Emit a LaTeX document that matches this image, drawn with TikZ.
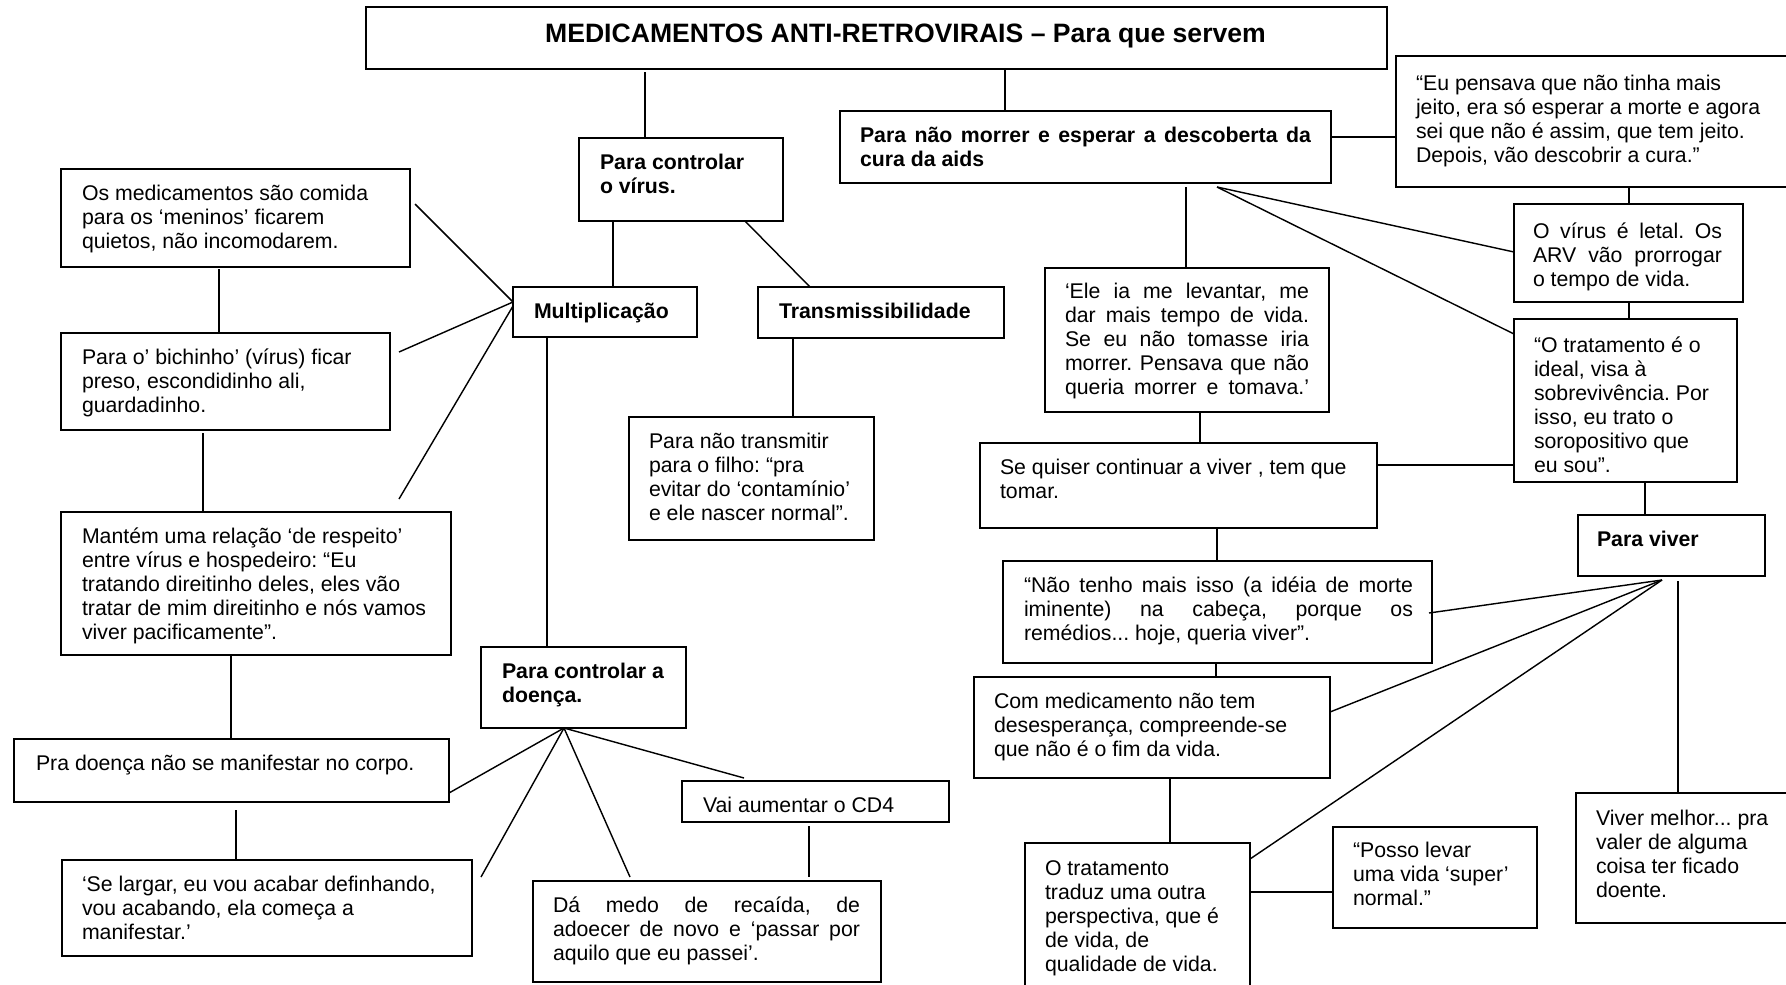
\documentclass[tikz,border=0pt]{standalone}
\usepackage{fontspec}
\setmainfont{Liberation Sans}[Ligatures={TeX,CommonOff}]
\usetikzlibrary{calc}

% one drawing unit = one pixel of the layout grid
\newdimen\pxu \pxu=0.564pt
% \boxcell{width}{height}{left inset}{right inset}{first baseline}{text}
\newcommand\boxcell[6]{%
  \hbox to #1\pxu{\kern#3\pxu
    \vbox to #2\pxu{\hsize=\dimexpr#1\pxu-#3\pxu-#4\pxu\relax
      \linewidth=\hsize \parindent=0pt \parskip=0pt \raggedright
      \kern\dimexpr#5\pxu-.7\baselineskip\relax
      \strut #6\par\vss}%
    \hss}}
% a fully justified line
\newcommand\jline[1]{\makebox[\hsize][s]{#1}}

\begin{document}
\frenchspacing
\begin{tikzpicture}[x=0.564pt, y=-0.564pt,
  bx/.style={draw, line width=1.1pt, inner sep=0pt, outer sep=0pt,
             anchor=north west, font=\fontsize{12}{13.6}\selectfont},
  conn/.style={draw, line width=0.8pt}]
\path[use as bounding box, fill=white] (0,0) rectangle (1786,984);

% ---------- boxes ----------
\node[bx] (title) at (366,7) {\hbox to 1021\pxu{\hskip0pt plus1fil\kern58\pxu
   \vbox to 62\pxu{\kern\dimexpr36\pxu-10.74pt\relax
     \hbox{\fontsize{15}{17}\selectfont\bfseries MEDICAMENTOS ANTI-RETROVIRAIS – Para que servem}\vss}%
   \hskip0pt plus1fil}};

\node[bx] (ctrlvirus) at (579,138) {\boxcell{204}{83}{21}{4}{31}{\bfseries Para controlar\\o vírus.}};
\node[bx] (naomorrer) at (840,111) {\boxcell{491}{72}{20}{20}{31}{\bfseries\jline{Para não morrer e esperar a descoberta da}\\cura da aids}};
\node[bx] (eupensava) at (1396,56) {\boxcell{404}{131}{20}{0}{34}{“Eu pensava que não tinha mais\\jeito, era só esperar a morte e agora\\sei que não é assim, que tem jeito.\\Depois, vão descobrir a cura.”}};
\node[bx] (letal) at (1514,204) {\boxcell{229}{98}{19}{21}{34}{\jline{O vírus é letal. Os}\\\jline{ARV vão prorrogar}\\o tempo de vida.}};
\node[bx] (ideal) at (1514,319) {\boxcell{223}{163}{20}{4}{33}{“O tratamento é o\\ideal, visa à\\sobrevivência. Por\\isso, eu trato o\\soropositivo que\\eu sou”.}};
\node[bx] (eleia) at (1045,268) {\boxcell{284}{144}{20}{20}{30}{\jline{‘Ele ia me levantar, me}\\\jline{dar mais tempo de vida.}\\\jline{Se eu não tomasse iria}\\\jline{morrer. Pensava que não}\\\jline{queria morrer e tomava.’}}};
\node[bx] (sequiser) at (980,443) {\boxcell{397}{85}{20}{4}{31}{Se quiser continuar a viver , tem que\\tomar.}};
\node[bx] (paraviver) at (1578,515) {\boxcell{187}{61}{19}{4}{31}{\bfseries Para viver}};
\node[bx] (naotenho) at (1003,561) {\boxcell{429}{102}{21}{19}{31}{\jline{“Não tenho mais isso (a idéia de morte}\\\jline{iminente) na cabeça, porque os}\\remédios... hoje, queria viver”.}};
\node[bx] (commed) at (974,677) {\boxcell{356}{101}{20}{4}{31}{Com medicamento não tem\\desesperança, compreende-se\\que não é o fim da vida.}};
\node[bx] (traduz) at (1025,843) {\boxcell{225}{157}{20}{4}{32}{O tratamento\\traduz uma outra\\perspectiva, que é\\de vida, de\\qualidade de vida.}};
\node[bx] (posso) at (1333,827) {\boxcell{204}{101}{20}{4}{30}{“Posso levar\\uma vida ‘super’\\normal.”}};
\node[bx] (vivermelhor) at (1576,793) {\boxcell{224}{130}{20}{4}{32}{Viver melhor... pra\\valer de alguma\\coisa ter ficado\\doente.}};

\node[bx] (comida) at (61,169) {\boxcell{349}{98}{21}{4}{31}{Os medicamentos são comida\\para os ‘meninos’ ficarem\\quietos, não incomodarem.}};
\node[bx] (bichinho) at (61,333) {\boxcell{329}{97}{21}{4}{31}{Para o’ bichinho’ (vírus) ficar\\preso, escondidinho ali,\\guardadinho.}};
\node[bx] (mantem) at (61,512) {\boxcell{390}{143}{21}{4}{31}{Mantém uma relação ‘de respeito’\\entre vírus e hospedeiro: “Eu\\tratando direitinho deles, eles vão\\tratar de mim direitinho e nós vamos\\viver pacificamente”.}};
\node[bx] (multi) at (513,287) {\boxcell{184}{50}{21}{4}{31}{\bfseries Multiplicação}};
\node[bx] (transm) at (758,287) {\boxcell{246}{51}{21}{4}{31}{\bfseries Transmissibilidade}};
\node[bx] (naotransm) at (629,417) {\boxcell{245}{123}{20}{4}{31}{Para não transmitir\\para o filho: “pra\\evitar do ‘contamínio’\\e ele nascer normal”.}};
\node[bx] (ctrldoenca) at (481,647) {\boxcell{205}{81}{21}{4}{31}{\bfseries Para controlar a\\doença.}};
\node[bx] (pradoenca) at (14,739) {\boxcell{435}{63}{22}{4}{31}{Pra doença não se manifestar no corpo.}};
\node[bx] (selargar) at (62,860) {\boxcell{410}{96}{20}{4}{31}{‘Se largar, eu vou acabar definhando,\\vou acabando, ela começa a\\manifestar.’}};
\node[bx] (vai) at (682,781) {\boxcell{267}{41}{21}{4}{31}{Vai aumentar o CD4}};
\node[bx] (damedo) at (533,881) {\boxcell{348}{101}{20}{21}{31}{\jline{Dá medo de recaída, de}\\\jline{adoecer de novo e ‘passar por}\\aquilo que eu passei’.}};

% ---------- connectors ----------
% title branches
\draw[conn] ($(title.south west)+(279,3)$) -- ($(ctrlvirus.north west)+(66,0)$);
\draw[conn] ($(title.south west)+(639,0)$) -- ($(naomorrer.north west)+(165,0)$);

% right branch
\draw[conn] ($(naomorrer.north east)+(0,26)$) -- ($(eupensava.north west)+(0,81)$);
\draw[conn] ($(eupensava.south west)+(233,0)$) -- ($(letal.north west)+(115,0)$);
\draw[conn] ($(letal.south west)+(115,0)$) -- ($(ideal.north west)+(115,0)$);
\draw[conn] ($(naomorrer.south west)+(377,4)$) -- ($(letal.north west)+(0,48)$);
\draw[conn] ($(naomorrer.south west)+(377,4)$) -- ($(ideal.north west)+(0,15)$);
\draw[conn] ($(naomorrer.south west)+(346,4)$) -- ($(eleia.north west)+(141,0)$);
\draw[conn] ($(eleia.south west)+(155,0)$) -- ($(sequiser.north west)+(220,0)$);
\draw[conn] ($(sequiser.north east)+(0,22)$) -- ($(ideal.north west)+(0,146)$);
\draw[conn] ($(ideal.south west)+(131,0)$) -- ($(paraviver.north west)+(67,0)$);
\draw[conn] ($(sequiser.south west)+(237,0)$) -- ($(naotenho.north west)+(214,0)$);
\draw[conn] ($(paraviver.south west)+(84,4)$) -- ($(naotenho.north east)+(-3,52)$);
\draw[conn] ($(paraviver.south west)+(84,4)$) -- ($(commed.north east)+(0,35)$);
\draw[conn] ($(paraviver.south west)+(84,4)$) -- ($(traduz.north east)+(0,16)$);
\draw[conn] ($(paraviver.south west)+(100,5)$) -- ($(vivermelhor.north west)+(102,0)$);
\draw[conn] ($(naotenho.south west)+(213,0)$) -- ($(commed.north west)+(242,0)$);
\draw[conn] ($(commed.south west)+(196,0)$) -- ($(traduz.north west)+(145,0)$);
\draw[conn] ($(traduz.north east)+(0,49)$) -- ($(posso.north west)+(0,65)$);

% left branch
\draw[conn] ($(comida.north east)+(5,35)$) -- ($(multi.north west)+(0,15)$);
\draw[conn] ($(bichinho.north east)+(9,19)$) -- ($(multi.north west)+(0,15)$);
\draw[conn] ($(mantem.north west)+(338,-13)$) -- ($(multi.north west)+(0,19)$);
\draw[conn] ($(ctrlvirus.south west)+(34,0)$) -- ($(multi.north west)+(100,0)$);
\draw[conn] ($(ctrlvirus.south west)+(166,0)$) -- ($(transm.north west)+(52,0)$);
\draw[conn] ($(transm.south west)+(35,0)$) -- ($(naotransm.north west)+(164,0)$);
\draw[conn] ($(multi.south west)+(34,0)$) -- ($(ctrldoenca.north west)+(66,0)$);
\draw[conn] ($(comida.south west)+(158,2)$) -- ($(bichinho.north west)+(158,0)$);
\draw[conn] ($(bichinho.south west)+(142,3)$) -- ($(mantem.north west)+(142,0)$);
\draw[conn] ($(mantem.south west)+(170,0)$) -- ($(pradoenca.north west)+(217,0)$);
\draw[conn] ($(pradoenca.south west)+(222,8)$) -- ($(selargar.north west)+(174,0)$);
\draw[conn] ($(ctrldoenca.south west)+(83,0)$) -- ($(pradoenca.north east)+(0,54)$);
\draw[conn] ($(ctrldoenca.south west)+(83,0)$) -- ($(selargar.north east)+(9,17)$);
\draw[conn] ($(ctrldoenca.south west)+(83,0)$) -- ($(damedo.north west)+(97,-4)$);
\draw[conn] ($(ctrldoenca.south west)+(83,0)$) -- ($(vai.north west)+(62,-3)$);
\draw[conn] ($(vai.south west)+(127,4)$) -- ($(damedo.north west)+(276,-4)$);
\end{tikzpicture}
\end{document}
